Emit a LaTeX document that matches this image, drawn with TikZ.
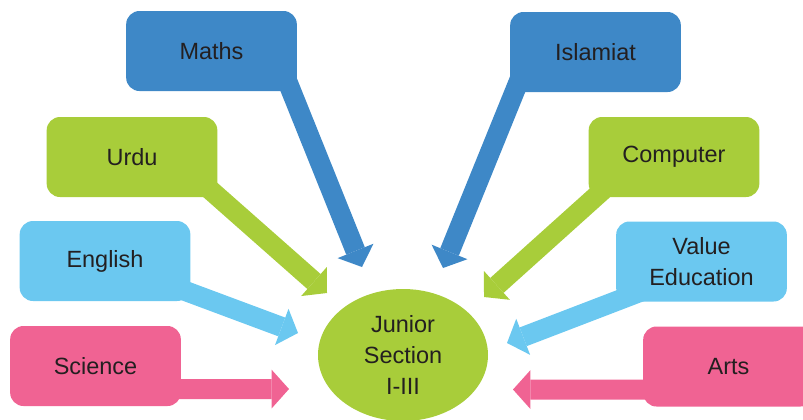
\documentclass[tikz,border=0pt]{standalone}
\usepackage{fontspec}
\setmainfont{Liberation Sans}
\usetikzlibrary{shapes.geometric,arrows.meta,backgrounds}
\definecolor{subjblue}{HTML}{3E88C7}
\definecolor{subjgreen}{HTML}{A8CD3A}
\definecolor{subjsky}{HTML}{6BC8F0}
\definecolor{subjpink}{HTML}{F06393}
\definecolor{subjtext}{HTML}{231F20}

\begin{document}
\begin{tikzpicture}[x=0.75pt, y=-0.75pt,
  subject/.style={rectangle, rounded corners=10pt, minimum width=128pt, minimum height=60pt,
    inner sep=0pt, align=center, text=subjtext, font=\fontsize{17.6}{23}\selectfont},
  centre/.style={ellipse, minimum width=127.5pt, minimum height=99pt, inner sep=0pt,
    align=center, text=subjtext, font=\fontsize{17.6}{23}\selectfont},
  feed/.style={line width=15pt, -{Triangle[width=29pt,length=13pt,line width=0pt]}}]
\useasboundingbox (0,0) rectangle (803,419);
\node[subject, fill=subjblue] (maths) at (211.5,51) {Maths};
\node[subject, fill=subjgreen] (urdu) at (132,157) {Urdu};
\node[subject, fill=subjsky] (english) at (105,261) {English};
\node[subject, fill=subjpink] (science) at (95.5,366) {Science};
\node[subject, fill=subjblue] (islamiat) at (595.5,52) {Islamiat};
\node[subject, fill=subjgreen] (computer) at (674,157) {Computer};
\node[subject, fill=subjsky] (valueedu) at (701.5,261.5) {Value\\Education};
\node[subject, fill=subjpink] (arts) at (728.5,366.5) {Arts};
\node[centre, fill=subjgreen] (junior) at (403,355) {Junior\\Section\\I-III};
\coordinate (maths-in) at (362,267);
\coordinate (urdu-in) at (327,293);
\coordinate (english-in) at (298,333);
\coordinate (science-in) at (289,389);
\coordinate (islamiat-in) at (443,268);
\coordinate (computer-in) at (484,297);
\coordinate (valueedu-in) at (507,343);
\coordinate (arts-in) at (513,389.5);
\begin{scope}[on background layer]
\draw[feed, subjblue] ([shift={(-22.6,-41.8)}]maths.south east) -- (maths-in);
\draw[feed, subjgreen] ([shift={(-35.6,-32.3)}]urdu.south east) -- (urdu-in);
\draw[feed, subjsky] ([shift={(-36.8,-22)}]english.south east) -- (english-in);
\draw[feed, subjpink] ([shift={(-31,-17)}]science.south east) -- (science-in);
\draw[feed, subjblue] ([shift={(22.4,-44.2)}]islamiat.south west) -- (islamiat-in);
\draw[feed, subjgreen] ([shift={(40.6,-30.6)}]computer.south west) -- (computer-in);
\draw[feed, subjsky] ([shift={(32.7,-13.1)}]valueedu.south west) -- (valueedu-in);
\draw[feed, subjpink] ([shift={(37,-17)}]arts.south west) -- (arts-in);
\end{scope}
\end{tikzpicture}
\end{document}
